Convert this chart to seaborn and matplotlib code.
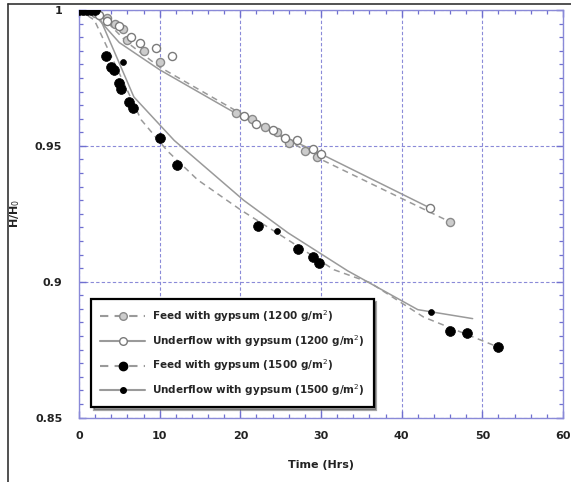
import matplotlib
matplotlib.use("Agg")
import matplotlib.pyplot as plt
import seaborn as sns
import pandas as pd
from matplotlib.lines import Line2D
from matplotlib.ticker import MultipleLocator

# ---------------- data ----------------
series_labels = [
    "Feed with gypsum (1200 g/m$^2$)",
    "Underflow with gypsum (1200 g/m$^2$)",
    "Feed with gypsum (1500 g/m$^2$)",
    "Underflow with gypsum (1500 g/m$^2$)",
]

# measured points (markers)
feed1200_t = [0, 0.5, 1, 2, 3.5, 4.5, 5.5, 6, 8, 10, 19.5, 21.5, 23, 24.5, 26, 28, 29.5, 46]
feed1200_h = [1.0, 1.0, 1.0, 0.999, 0.997, 0.995, 0.993, 0.989, 0.985, 0.981,
              0.962, 0.960, 0.957, 0.955, 0.951, 0.948, 0.946, 0.922]

under1200_t = [0, 1, 2.5, 3.5, 5, 6.5, 7.5, 9.5, 11.5, 20.5, 22, 24, 25.5, 27, 29, 30, 43.5]
under1200_h = [1.0, 1.0, 0.998, 0.996, 0.994, 0.990, 0.988, 0.986, 0.983,
               0.961, 0.958, 0.956, 0.953, 0.952, 0.949, 0.947, 0.927]

feed1500_t = [0, 0.5, 1, 1.5, 2, 3.3, 4.0, 4.3, 4.9, 5.2, 6.2, 6.7, 10.0, 12.1,
              22.2, 27.2, 29.0, 29.8, 46.0, 48.1, 51.9]
feed1500_h = [1.0, 1.0, 1.0, 1.0, 1.0, 0.983, 0.979, 0.978, 0.973, 0.971, 0.966, 0.964,
              0.953, 0.943, 0.9206, 0.912, 0.909, 0.907, 0.882, 0.881, 0.876]

under1500_t = [0, 1, 2, 5.4, 24.5, 43.6]
under1500_h = [1.0, 1.0, 1.0, 0.981, 0.9188, 0.889]

# trend lines drawn through the data
feed1200_line_t = [0, 3, 6, 10, 20, 30, 46]
feed1200_line_h = [1.0, 0.997, 0.988, 0.979, 0.962, 0.945, 0.922]

under1200_line_t = [0, 2, 5, 10, 20, 30, 43.6]
under1200_line_h = [1.0, 0.998, 0.988, 0.978, 0.961, 0.947, 0.927]

feed1500_line_t = [0, 1.9, 7.7, 11.0, 14.7, 20.0, 25.9, 31.6, 36.1, 42.7, 51.9]
feed1500_line_h = [1.0, 0.9963, 0.9596, 0.948, 0.9375, 0.9265, 0.9154, 0.9044, 0.8996, 0.887, 0.876]

under1500_line_t = [0, 2.3, 6.8, 11.8, 20.4, 25.9, 33.3, 42.0, 48.8]
under1500_line_h = [1.0, 0.999, 0.968, 0.952, 0.930, 0.918, 0.904, 0.8897, 0.8864]

x_ticks = [0, 10, 20, 30, 40, 50, 60]
y_ticks = [0.85, 0.9, 0.95, 1.0]
y_tick_labels = ["0.85", "0.9", "0.95", "1"]

# ---------------- styling ----------------
sns.set_theme(style="white")
plt.rcParams["font.family"] = ["DejaVu Sans"]
plt.rcParams["xtick.bottom"] = True
plt.rcParams["ytick.left"] = True

grid_col = "#8a8ad8"
tick_col = "#6f6fd0"
line_col = "#9a9a9a"

fig = plt.figure(figsize=(5.71, 4.82), dpi=100)
ax = fig.add_axes([79 / 571, 1 - 417.5 / 482, (563 - 79) / 571, (417.5 - 10) / 482])

def draw_line(t, h, ls):
    sns.lineplot(x=t, y=h, ax=ax, color=line_col, linestyle=ls, linewidth=1.1,
                 sort=False, estimator=None, zorder=2)

draw_line(feed1200_line_t, feed1200_line_h, (0, (4, 3)))
draw_line(under1200_line_t, under1200_line_h, "-")
draw_line(feed1500_line_t, feed1500_line_h, (0, (4, 3)))
draw_line(under1500_line_t, under1500_line_h, "-")

sns.scatterplot(x=feed1200_t, y=feed1200_h, ax=ax, marker="o", s=34,
                facecolor="#cccccc", edgecolor="#8a8a8a", linewidth=1.0, zorder=3)
sns.scatterplot(x=under1200_t, y=under1200_h, ax=ax, marker="o", s=34,
                facecolor="white", edgecolor="#7a7a7a", linewidth=1.0, zorder=3)
sns.scatterplot(x=feed1500_t, y=feed1500_h, ax=ax, marker="o", s=50,
                facecolor="black", edgecolor="black", linewidth=0.5, zorder=4)
sns.scatterplot(x=under1500_t, y=under1500_h, ax=ax, marker="o", s=18,
                facecolor="black", edgecolor="black", linewidth=0.5, zorder=4)

ax.set_xlim(0, 60)
ax.set_ylim(0.85, 1.0)
ax.set_xticks(x_ticks)
ax.set_xticklabels([str(v) for v in x_ticks])
ax.set_yticks(y_ticks)
ax.set_yticklabels(y_tick_labels)
ax.xaxis.set_minor_locator(MultipleLocator(2))
ax.yaxis.set_minor_locator(MultipleLocator(0.005))

ax.tick_params(which="both", direction="in", top=True, right=True, bottom=True, left=True,
               color=tick_col, labelcolor="#222222", labelsize=8)
ax.tick_params(which="major", length=5, width=1.0)
ax.tick_params(which="minor", length=3, width=0.9)
for lab in ax.get_xticklabels() + ax.get_yticklabels():
    lab.set_fontweight("bold")
ax.tick_params(axis="x", which="major", pad=10)
ax.tick_params(axis="y", which="major", pad=12)

ax.grid(True, which="major", color=grid_col, linestyle=(0, (3, 2)), linewidth=0.8)
for sp in ax.spines.values():
    sp.set_color(grid_col)
    sp.set_linewidth(1.0)

ax.set_xlabel("Time (Hrs)", fontsize=8, fontweight="bold", color="#222222")
ax.xaxis.set_label_coords(0.5, -0.105)
ax.set_ylabel("H/H$_0$", fontsize=8, fontweight="bold", color="#222222")
ax.yaxis.set_label_coords(-0.118, 0.5)

handles = [
    Line2D([], [], color=line_col, linestyle=(0, (4, 3)), marker="o", markersize=5.5,
           markerfacecolor="#cccccc", markeredgecolor="#8a8a8a"),
    Line2D([], [], color=line_col, linestyle="-", marker="o", markersize=5.5,
           markerfacecolor="white", markeredgecolor="#7a7a7a"),
    Line2D([], [], color=line_col, linestyle=(0, (4, 3)), marker="o", markersize=6,
           markerfacecolor="black", markeredgecolor="black"),
    Line2D([], [], color=line_col, linestyle="-", marker="o", markersize=4,
           markerfacecolor="black", markeredgecolor="black"),
]
leg = ax.legend(handles, series_labels, loc="lower left", bbox_to_anchor=(0.025, 0.025),
                borderaxespad=0, fancybox=False, shadow=True, frameon=True,
                prop={"size": 7.5, "weight": "bold"}, handlelength=4.3,
                labelspacing=0.85, borderpad=0.9, handletextpad=0.6)
leg.get_frame().set_edgecolor("black")
leg.get_frame().set_linewidth(1.6)

# outer frame (top and left edges of the figure box)
fig.add_artist(Line2D([8 / 571, 1.0], [1 - 4 / 482, 1 - 4 / 482],
                      transform=fig.transFigure, color="#333333", linewidth=1.2))
fig.add_artist(Line2D([8 / 571, 8 / 571], [0, 1 - 4 / 482],
                      transform=fig.transFigure, color="#333333", linewidth=1.2))

fig.savefig("out.png", dpi=100)
